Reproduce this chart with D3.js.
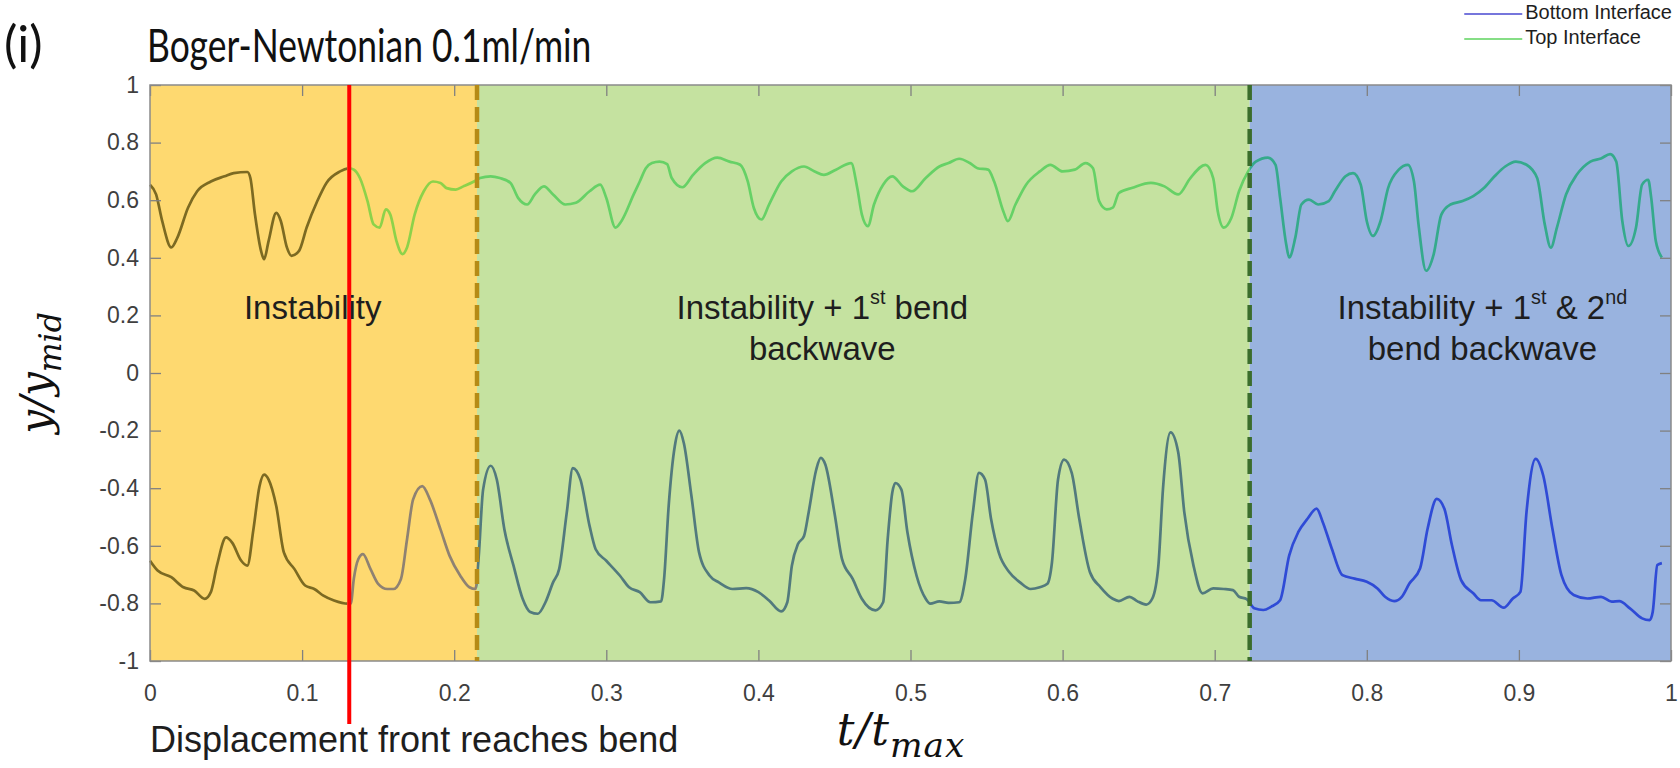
<!DOCTYPE html>
<html>
<head>
<meta charset="utf-8">
<script src="https://cdn.jsdelivr.net/npm/d3@7"></script>
<style>
  body { margin: 0; background: #ffffff; }
  svg { display: block; }
</style>
</head>
<body>
<svg id="chart" width="1680" height="768"></svg>
<script>
// Normalised interface position y/y_mid against normalised time t/t_max
const topInterface = [
  [0,0.654],[0.004,0.62],[0.008,0.528],[0.014,0.436],[0.018,0.47],[0.025,0.574],[0.031,0.631],[0.040,0.665],
  [0.049,0.683],[0.055,0.694],[0.064,0.698],[0.066,0.677],[0.069,0.551],[0.073,0.424],[0.075,0.395],[0.078,0.459],
  [0.083,0.556],[0.086,0.528],[0.090,0.436],[0.093,0.407],[0.098,0.424],[0.103,0.505],[0.110,0.597],[0.116,0.66],
  [0.125,0.70],[0.131,0.711],[0.134,0.706],[0.138,0.677],[0.143,0.597],[0.147,0.516],[0.151,0.505],[0.155,0.568],
  [0.158,0.55],[0.162,0.459],[0.166,0.413],[0.169,0.436],[0.174,0.55],[0.180,0.631],[0.186,0.665],[0.191,0.66],
  [0.195,0.642],[0.201,0.637],[0.206,0.648],[0.213,0.665],[0.217,0.677],[0.224,0.683],[0.230,0.677],[0.237,0.66],
  [0.242,0.608],[0.248,0.585],[0.253,0.62],[0.259,0.648],[0.265,0.62],[0.273,0.585],[0.280,0.591],[0.289,0.631],
  [0.296,0.654],[0.300,0.608],[0.306,0.505],[0.310,0.528],[0.318,0.62],[0.322,0.665],[0.326,0.711],[0.330,0.729],
  [0.335,0.734],[0.340,0.725],[0.343,0.677],[0.350,0.645],[0.357,0.688],[0.365,0.729],[0.373,0.748],[0.381,0.734],
  [0.388,0.723],[0.393,0.665],[0.397,0.573],[0.402,0.533],[0.407,0.585],[0.415,0.665],[0.422,0.70],[0.430,0.717],
  [0.437,0.70],[0.443,0.688],[0.451,0.706],[0.461,0.729],[0.465,0.642],[0.468,0.551],[0.472,0.51],[0.476,0.585],
  [0.482,0.654],[0.488,0.683],[0.495,0.648],[0.501,0.631],[0.510,0.677],[0.519,0.717],[0.525,0.729],[0.532,0.744],
  [0.539,0.729],[0.544,0.711],[0.551,0.706],[0.555,0.665],[0.561,0.562],[0.564,0.527],[0.569,0.585],[0.576,0.654],
  [0.585,0.70],[0.592,0.723],[0.600,0.70],[0.608,0.706],[0.615,0.729],[0.620,0.711],[0.624,0.597],[0.629,0.568],
  [0.633,0.574],[0.637,0.625],[0.646,0.643],[0.658,0.66],[0.667,0.648],[0.676,0.62],[0.684,0.677],[0.694,0.723],
  [0.699,0.677],[0.702,0.562],[0.706,0.505],[0.711,0.539],[0.716,0.631],[0.722,0.70],[0.727,0.734],[0.735,0.748],
  [0.740,0.723],[0.743,0.608],[0.747,0.447],[0.749,0.401],[0.753,0.47],[0.757,0.585],[0.762,0.602],[0.768,0.585],
  [0.775,0.597],[0.779,0.631],[0.786,0.683],[0.791,0.694],[0.796,0.654],[0.800,0.527],[0.804,0.476],[0.809,0.527],
  [0.814,0.642],[0.821,0.706],[0.827,0.723],[0.831,0.665],[0.834,0.516],[0.839,0.355],[0.844,0.413],[0.849,0.55],
  [0.855,0.585],[0.863,0.597],[0.870,0.614],[0.877,0.642],[0.884,0.683],[0.891,0.717],[0.898,0.734],[0.905,0.723],
  [0.912,0.677],[0.917,0.516],[0.921,0.435],[0.925,0.505],[0.931,0.62],[0.938,0.688],[0.947,0.734],[0.954,0.745],
  [0.960,0.76],[0.964,0.734],[0.968,0.527],[0.972,0.441],[0.977,0.505],[0.981,0.654],[0.985,0.671],[0.987,0.608],
  [0.990,0.458],[0.994,0.401]
];

const bottomInterface = [
  [0,-0.652],[0.005,-0.686],[0.014,-0.709],[0.022,-0.744],[0.029,-0.755],[0.036,-0.784],[0.040,-0.761],[0.044,-0.669],
  [0.050,-0.571],[0.054,-0.589],[0.060,-0.652],[0.064,-0.669],[0.068,-0.543],[0.072,-0.393],[0.075,-0.353],[0.078,-0.37],
  [0.083,-0.462],[0.088,-0.623],[0.095,-0.681],[0.102,-0.738],[0.108,-0.75],[0.114,-0.773],[0.121,-0.79],[0.130,-0.801],
  [0.132,-0.801],[0.134,-0.715],[0.137,-0.646],[0.140,-0.629],[0.145,-0.681],[0.150,-0.732],[0.156,-0.75],[0.160,-0.75],
  [0.165,-0.715],[0.169,-0.577],[0.173,-0.439],[0.179,-0.393],[0.184,-0.439],[0.191,-0.543],[0.197,-0.635],[0.204,-0.704],
  [0.210,-0.744],[0.214,-0.75],[0.216,-0.646],[0.219,-0.405],[0.224,-0.322],[0.228,-0.37],[0.233,-0.543],[0.239,-0.669],
  [0.245,-0.784],[0.250,-0.83],[0.255,-0.836],[0.260,-0.796],[0.265,-0.727],[0.269,-0.681],[0.274,-0.485],[0.278,-0.33],
  [0.283,-0.37],[0.289,-0.531],[0.293,-0.612],[0.300,-0.652],[0.309,-0.704],[0.315,-0.744],[0.322,-0.761],[0.329,-0.796],
  [0.336,-0.793],[0.338,-0.715],[0.341,-0.462],[0.345,-0.255],[0.348,-0.2],[0.351,-0.244],[0.356,-0.428],[0.361,-0.623],
  [0.368,-0.704],[0.374,-0.727],[0.383,-0.75],[0.392,-0.747],[0.400,-0.761],[0.407,-0.79],[0.415,-0.828],[0.419,-0.796],
  [0.422,-0.669],[0.426,-0.594],[0.430,-0.566],[0.433,-0.485],[0.438,-0.336],[0.441,-0.295],[0.444,-0.318],[0.450,-0.485],
  [0.455,-0.646],[0.462,-0.715],[0.468,-0.784],[0.477,-0.824],[0.482,-0.796],[0.485,-0.577],[0.488,-0.416],[0.490,-0.382],
  [0.494,-0.405],[0.498,-0.554],[0.504,-0.704],[0.510,-0.784],[0.513,-0.801],[0.519,-0.793],[0.525,-0.798],[0.532,-0.796],
  [0.536,-0.715],[0.541,-0.485],[0.545,-0.347],[0.549,-0.37],[0.553,-0.508],[0.558,-0.623],[0.565,-0.692],[0.572,-0.727],
  [0.579,-0.75],[0.585,-0.744],[0.590,-0.732],[0.593,-0.658],[0.597,-0.37],[0.601,-0.301],[0.606,-0.347],[0.611,-0.508],
  [0.618,-0.692],[0.625,-0.744],[0.633,-0.784],[0.637,-0.792],[0.644,-0.777],[0.649,-0.792],[0.655,-0.804],[0.659,-0.783],
  [0.663,-0.667],[0.666,-0.402],[0.671,-0.206],[0.676,-0.275],[0.680,-0.483],[0.686,-0.667],[0.692,-0.765],[0.699,-0.748],
  [0.706,-0.75],[0.712,-0.754],[0.716,-0.777],[0.721,-0.785],[0.726,-0.817],[0.732,-0.823],[0.737,-0.812],[0.743,-0.789],
  [0.749,-0.633],[0.755,-0.552],[0.761,-0.506],[0.767,-0.471],[0.771,-0.517],[0.777,-0.61],[0.784,-0.702],[0.792,-0.714],
  [0.800,-0.725],[0.807,-0.748],[0.812,-0.777],[0.818,-0.792],[0.823,-0.777],[0.828,-0.731],[0.835,-0.679],[0.840,-0.54],
  [0.846,-0.437],[0.851,-0.471],[0.856,-0.598],[0.862,-0.719],[0.870,-0.765],[0.875,-0.789],[0.882,-0.789],[0.890,-0.815],
  [0.896,-0.783],[0.901,-0.76],[0.905,-0.483],[0.911,-0.298],[0.916,-0.356],[0.922,-0.54],[0.928,-0.702],[0.936,-0.771],
  [0.945,-0.783],[0.954,-0.777],[0.961,-0.794],[0.966,-0.792],[0.973,-0.817],[0.981,-0.852],[0.986,-0.858],[0.988,-0.829],
  [0.991,-0.667],[0.994,-0.66]
];

// Flow regimes: boundaries in t/t_max and their labels (^ marks a superscript)
const phaseBounds = [0, 0.215, 0.723, 1];
const phaseLabels = [
  ["Instability"],
  ["Instability + 1^st bend", "backwave"],
  ["Instability + 1^st & 2^nd", "bend backwave"]
];
const frontTime = 0.131;          // displacement front reaches the bend
const frontLabel = "Displacement front reaches bend";

const xTicks = [0, 0.1, 0.2, 0.3, 0.4, 0.5, 0.6, 0.7, 0.8, 0.9, 1];
const xTickLabels = ["0", "0.1", "0.2", "0.3", "0.4", "0.5", "0.6", "0.7", "0.8", "0.9", "1"];
const yTicks = [-1, -0.8, -0.6, -0.4, -0.2, 0, 0.2, 0.4, 0.6, 0.8, 1];
const yTickLabels = ["-1", "-0.8", "-0.6", "-0.4", "-0.2", "0", "0.2", "0.4", "0.6", "0.8", "1"];

const seriesNames = ["Bottom Interface", "Top Interface"];

// ---- drawing ----
const svg = d3.select("#chart");
const plotL = 150, plotR = 1671, plotT = 85, plotB = 661;
const x = d3.scaleLinear().domain([0, 1]).range([plotL, plotR]);
const y = d3.scaleLinear().domain([-1, 1]).range([plotB, plotT]);

const sansFont = "'Liberation Sans', Arial, sans-serif";
const mathFont = "'DejaVu Serif', 'Liberation Serif', serif";
const phaseFills = ["#fed970", "#c5e2a0", "#99b3df"];
const dividerColors = [null, "#b58b16", "#3b6d2c"];

// shaded regimes
svg.append("g").selectAll("rect")
  .data(phaseFills)
  .join("rect")
  .attr("x", (d, i) => x(phaseBounds[i]))
  .attr("y", plotT)
  .attr("width", (d, i) => x(phaseBounds[i + 1]) - x(phaseBounds[i]))
  .attr("height", plotB - plotT)
  .attr("fill", d => d);

// colour bands used to tint each trace through the regimes
const segBounds = [0, frontTime, phaseBounds[1], phaseBounds[2], 1];
const topColors = ["#7c6a22", "#8dd24a", "#66d166", "#35aa8c"];
const bottomColors = ["#7c6a22", "#8f8272", "#527a7d", "#2f4bd6"];

const defs = svg.append("defs");
segBounds.slice(0, -1).forEach((b, i) => {
  defs.append("clipPath").attr("id", "seg" + i)
    .append("rect")
    .attr("x", x(b) - (i === 0 ? 2 : 0))
    .attr("y", plotT - 20)
    .attr("width", x(segBounds[i + 1]) - x(b) + (i === segBounds.length - 2 ? 2 : 0))
    .attr("height", plotB - plotT + 40);
});

const line = d3.line()
  .x(d => x(d[0]))
  .y(d => y(d[1]))
  .curve(d3.curveMonotoneX);

const traces = svg.append("g");
[[bottomInterface, bottomColors], [topInterface, topColors]].forEach(([data, colors]) => {
  colors.forEach((c, i) => {
    traces.append("path")
      .datum(data)
      .attr("clip-path", `url(#seg${i})`)
      .attr("fill", "none")
      .attr("stroke", c)
      .attr("stroke-width", 2.7)
      .attr("stroke-linejoin", "round")
      .attr("d", line);
  });
});

// axes box with inward ticks
const tickColor = "#808080";
const tickLen = 11;
const gx = svg.append("g").attr("transform", `translate(0,${plotB})`)
  .call(d3.axisBottom(x).tickValues(xTicks)
    .tickFormat((d, i) => xTickLabels[i])
    .tickSizeInner(-tickLen).tickSizeOuter(0).tickPadding(24));
const gy = svg.append("g").attr("transform", `translate(${plotL},0)`)
  .call(d3.axisLeft(y).tickValues(yTicks)
    .tickFormat((d, i) => yTickLabels[i])
    .tickSizeInner(-tickLen).tickSizeOuter(0).tickPadding(11));
const gxt = svg.append("g").attr("transform", `translate(0,${plotT})`)
  .call(d3.axisTop(x).tickValues(xTicks)
    .tickSizeInner(-tickLen).tickSizeOuter(0));
const gyr = svg.append("g").attr("transform", `translate(${plotR},0)`)
  .call(d3.axisRight(y).tickValues(yTicks)
    .tickSizeInner(-tickLen).tickSizeOuter(0));
gxt.selectAll(".tick text").remove();
gyr.selectAll(".tick text").remove();
[gx, gy, gxt, gyr].forEach(g => {
  g.select(".domain").remove();
  g.selectAll(".tick line").attr("stroke", tickColor).attr("stroke-width", 1.3);
  g.selectAll(".tick text")
    .attr("fill", "#3f3f3f")
    .style("font-family", sansFont)
    .style("font-size", "23px");
});
svg.append("rect")
  .attr("x", plotL).attr("y", plotT)
  .attr("width", plotR - plotL).attr("height", plotB - plotT)
  .attr("fill", "none").attr("stroke", "#8a8a8a").attr("stroke-width", 1.5);

// regime dividers
phaseBounds.forEach((b, i) => {
  if (!dividerColors[i]) return;
  svg.append("line")
    .attr("x1", x(b)).attr("x2", x(b))
    .attr("y1", plotT).attr("y2", plotB)
    .attr("stroke", dividerColors[i])
    .attr("stroke-width", 4.5)
    .attr("stroke-dasharray", "15 7");
});

// displacement front marker
svg.append("line")
  .attr("x1", x(frontTime)).attr("x2", x(frontTime))
  .attr("y1", plotT).attr("y2", 724)
  .attr("stroke", "#ff0000").attr("stroke-width", 4);

svg.append("text")
  .attr("x", 150).attr("y", 742)
  .attr("dominant-baseline", "middle")
  .style("font-family", sansFont).style("font-size", "36px")
  .attr("fill", "#1e1e1e")
  .text(frontLabel);

// regime labels, with raised ordinal suffixes
function richText(sel, str) {
  let lift = 0;
  str.split(/(\^\w+)/).forEach(part => {
    if (!part) return;
    const span = sel.append("tspan");
    if (part[0] === "^") {
      span.attr("dy", "-11").style("font-size", "0.6em").text(part.slice(1));
      lift = 11;
    } else {
      if (lift) span.attr("dy", lift);
      lift = 0;
      span.text(part);
    }
  });
}
const labelCentres = [0.107, 0.442, 0.876];
const labelRows = [0.219, 0.076];
phaseLabels.forEach((lines, i) => {
  lines.forEach((ln, j) => {
    const t = svg.append("text")
      .attr("x", x(labelCentres[i]))
      .attr("y", y(labelRows[j]))
      .attr("text-anchor", "middle")
      .attr("dominant-baseline", "middle")
      .style("font-family", sansFont).style("font-size", "33px")
      .attr("fill", "#1e1e1e");
    richText(t, ln);
  });
});

// axis titles
const xl = svg.append("text")
  .attr("x", 901).attr("y", 745)
  .attr("text-anchor", "middle")
  .style("font-family", mathFont)
  .style("font-style", "italic").style("font-size", "44px")
  .style("letter-spacing", "1px")
  .attr("fill", "#111");
xl.append("tspan").text("t/t");
xl.append("tspan").attr("dy", 12).style("font-size", "0.78em").text("max");

const yl = svg.append("text")
  .attr("transform", `translate(50,${y(0)}) rotate(-90)`)
  .attr("text-anchor", "middle")
  .style("font-family", mathFont)
  .style("font-style", "italic").style("font-size", "42px")
  .attr("fill", "#111");
yl.append("tspan").text("y/y");
yl.append("tspan").attr("dy", 11).style("font-size", "0.75em").text("mid");

// panel title
svg.append("text")
  .attr("x", 4).attr("y", 62)
  .style("font-family", "Lato, 'Open Sans', sans-serif").style("font-size", "50px")
  .attr("fill", "#111")
  .text("(i)");
svg.append("text")
  .attr("transform", "translate(147,62) scale(0.77,1)")
  .style("font-family", "Lato, 'Open Sans', sans-serif").style("font-size", "46px")
  .attr("fill", "#111")
  .text("Boger-Newtonian 0.1ml/min");

// legend, right-aligned with the plot edge
const legendColors = ["#7676dc", "#86de86"];
const legend = svg.append("g");
const legendTexts = seriesNames.map((name, i) => legend.append("text")
  .attr("y", 14 + i * 25)
  .attr("dominant-baseline", "middle")
  .style("font-family", sansFont).style("font-size", "20px")
  .attr("fill", "#1e1e1e")
  .text(name));
const legendWidth = d3.max(legendTexts, t => t.node().getComputedTextLength());
const legendX = plotR + 1 - legendWidth;
legendTexts.forEach((t, i) => {
  t.attr("x", legendX);
  legend.append("line")
    .attr("x1", legendX - 61).attr("x2", legendX - 3)
    .attr("y1", 14 + i * 25).attr("y2", 14 + i * 25)
    .attr("stroke", legendColors[i]).attr("stroke-width", 2);
});
</script>
</body>
</html>
